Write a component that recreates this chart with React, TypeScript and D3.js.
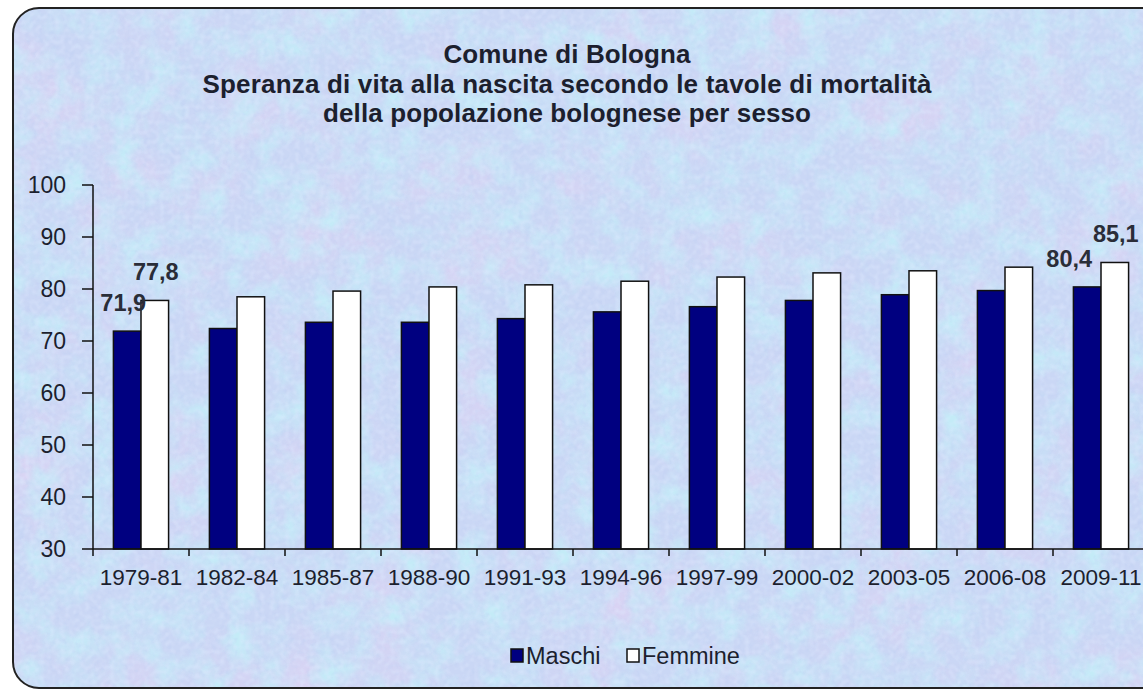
import React from "react";
import * as d3 from "d3";

const categories = ["1979-81", "1982-84", "1985-87", "1988-90", "1991-93", "1994-96", "1997-99", "2000-02", "2003-05", "2006-08", "2009-11"];
const maschi = [71.9, 72.4, 73.6, 73.6, 74.3, 75.6, 76.6, 77.8, 78.9, 79.7, 80.4];
const femmine = [77.8, 78.5, 79.6, 80.4, 80.8, 81.5, 82.3, 83.1, 83.5, 84.2, 85.1];
const seriesNames = ["Maschi", "Femmine"];
const yTicks = [30, 40, 50, 60, 70, 80, 90, 100];
const labelledIndexes = [0, 10];
const titleLines = [
  "Comune di Bologna",
  "Speranza di vita alla nascita secondo le tavole di mortalità",
  "della popolazione bolognese per sesso",
];

const W = 1143;
const H = 693;
const FONT = "'Liberation Sans', Arial, sans-serif";
const INK = "#1c1f2e";

export default function App() {
  const x = d3.scaleBand<string>().domain(categories).range([93, 1149]).paddingInner(0).paddingOuter(0);
  const xs = d3.scaleBand<string>().domain(seriesNames).range([0, x.bandwidth()]).paddingInner(0).paddingOuter(0.74);
  const y = d3.scaleLinear().domain([30, 100]).range([549, 185]);
  const colors: Record<string, string> = { Maschi: "#000080", Femmine: "#ffffff" };
  const data = [maschi, femmine];
  const fmt = (v: number) => v.toFixed(1).replace(".", ",");
  const labelDx: Record<string, number> = { "0-0": -4, "0-1": 1, "10-0": -18, "10-1": 1 };
  const titleWidths = [247, 729, 488];
  const titleBaselines = [63, 93, 122];

  return (
    <svg width={W} height={H} style={{ position: "absolute", left: 0, top: 0, display: "block" }}>
      <defs>
        <filter id="tex" x="0" y="0" width="100%" height="100%" colorInterpolationFilters="sRGB">
          <feTurbulence type="fractalNoise" baseFrequency="0.014" numOctaves="3" seed="3" result="n1" />
          <feColorMatrix in="n1" type="matrix" values="0 0 0 0 0.88  0 0 0 0 0.82  0 0 0 0 0.95  1.6 0 0 0 -0.75" result="pink" />
          <feTurbulence type="fractalNoise" baseFrequency="0.035" numOctaves="3" seed="9" result="n2" />
          <feColorMatrix in="n2" type="matrix" values="0 0 0 0 0.77  0 0 0 0 0.92  0 0 0 0 0.97  0 2.2 0 0 -0.85" result="cyan" />
          <feTurbulence type="fractalNoise" baseFrequency="0.16" numOctaves="2" seed="5" result="n3" />
          <feColorMatrix in="n3" type="matrix" values="0 0 0 0 0.74  0 0 0 0 0.81  0 0 0 0 0.95  0 0 1.0 0 -0.52" result="speck" />
          <feTurbulence type="fractalNoise" baseFrequency="0.2" numOctaves="1" seed="11" result="n4" />
          <feColorMatrix in="n4" type="matrix" values="0 0 0 0 0.88  0 0 0 0 0.92  0 0 0 0 1.0  1.0 0 0 0 -0.42" result="light" />
          <feMerge>
            <feMergeNode in="pink" />
            <feMergeNode in="cyan" />
            <feMergeNode in="speck" />
            <feMergeNode in="light" />
          </feMerge>
        </filter>
        <clipPath id="frameClip">
          <rect x={13} y={8} width={1160} height={680} rx={26} ry={26} />
        </clipPath>
      </defs>
      <rect x={0} y={0} width={W} height={H} fill="#ffffff" />
      <g clipPath="url(#frameClip)">
        <rect x={0} y={0} width={W} height={H} fill="#cad7f5" />
        <rect x={0} y={0} width={W} height={H} fill="#000" filter="url(#tex)" />
      </g>
      <rect x={13} y={8} width={1160} height={680} rx={26} ry={26} fill="none" stroke="#222" strokeWidth={2} />

      {titleLines.map((t, i) => (
        <text
          key={t}
          x={567}
          y={titleBaselines[i]}
          textAnchor="middle"
          fontFamily={FONT}
          fontWeight="bold"
          fontSize={26}
          fill={INK}
          textLength={titleWidths[i]}
          lengthAdjust="spacing"
        >
          {t}
        </text>
      ))}

      {/* bars */}
      {categories.map((c, ci) => (
        <g key={c} transform={`translate(${x(c)},0)`}>
          {seriesNames.map((s, si) => (
            <rect
              key={s}
              x={xs(s)}
              y={y(data[si][ci])}
              width={xs.bandwidth()}
              height={y(30) - y(data[si][ci])}
              fill={colors[s]}
              stroke="#111"
              strokeWidth={1.5}
            />
          ))}
        </g>
      ))}

      {/* data labels */}
      {labelledIndexes.map((ci) =>
        seriesNames.map((s, si) => (
          <text
            key={`${ci}-${si}`}
            x={(x(categories[ci]) as number) + (xs(s) as number) + xs.bandwidth() / 2 + labelDx[`${ci}-${si}`]}
            y={y(data[si][ci]) - 20}
            textAnchor="middle"
            fontFamily={FONT}
            fontWeight="bold"
            fontSize={23.5}
            fill="#2a2d38"
          >
            {fmt(data[si][ci])}
          </text>
        ))
      )}

      {/* y axis */}
      <line x1={93} x2={93} y1={y(100)} y2={y(30)} stroke="#111" strokeWidth={1.5} />
      {yTicks.map((t) => (
        <g key={t}>
          <line x1={82} x2={93} y1={y(t)} y2={y(t)} stroke="#111" strokeWidth={1.5} />
          <text x={66} y={y(t)} dy="0.36em" textAnchor="end" fontFamily={FONT} fontSize={23} fill={INK}>
            {t}
          </text>
        </g>
      ))}

      {/* x axis */}
      <line x1={93} x2={1149} y1={y(30)} y2={y(30)} stroke="#111" strokeWidth={1.5} />
      {categories.map((c) => (
        <g key={c}>
          <line x1={x(c)} x2={x(c)} y1={y(30)} y2={y(30) + 7} stroke="#111" strokeWidth={1.5} />
          <text x={(x(c) as number) + x.bandwidth() / 2} y={585} textAnchor="middle" fontFamily={FONT} fontSize={22.5} fill={INK}>
            {c}
          </text>
        </g>
      ))}

      {/* legend */}
      {seriesNames.map((s, i) => {
        const lx = i === 0 ? 511 : 627;
        return (
          <g key={s}>
            <rect x={lx} y={649} width={12} height={13} fill={colors[s]} stroke="#111" strokeWidth={1.5} />
            <text x={lx + 15} y={664} fontFamily={FONT} fontSize={23.5} fill={INK}>
              {s}
            </text>
          </g>
        );
      })}
    </svg>
  );
}
